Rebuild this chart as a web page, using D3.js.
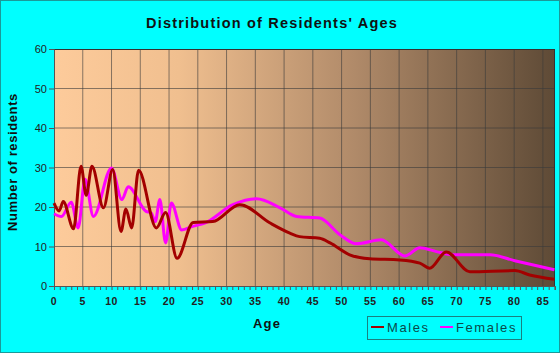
<!DOCTYPE html>
<html>
<head>
<meta charset="utf-8">
<script src="https://cdn.jsdelivr.net/npm/d3@7"></script>
<style>
  body { margin: 0; background: #00ffff; }
  svg { display: block; font-family: Arial, "Liberation Sans", sans-serif; }
</style>
</head>
<body>
<div id="chart"></div>
<script>
// Data (age, residents)
const maleAges   = [0, 0.9, 1.6, 3.4, 4.7, 5.6, 6.6, 8.6, 10.2, 11.65, 12.5, 13.5, 14.7, 17.8, 19.4, 21.4, 24.2, 27.6, 32.3, 37.5, 41, 42.7, 46.2, 48, 51.4, 54.9, 60.1, 63.6, 65.3, 68.2, 72.3, 80.1, 82.7, 87];
const maleValues = [21, 19, 21.4, 14.5, 30.3, 23, 30.3, 19.8, 29.5, 13.8, 19.5, 14.7, 29.3, 14.7, 18.6, 7, 16.1, 16.3, 20.6, 16, 13.4, 12.5, 12.1, 10.9, 7.9, 6.9, 6.6, 5.8, 4.5, 8.6, 3.6, 3.9, 2.8, 1.7];
const femaleAges   = [0, 1.3, 3, 4.2, 5.4, 6.85, 10, 11.8, 12.9, 16, 16.9, 17.6, 18.4, 19.4, 20.4, 22.2, 24.1, 26.2, 31.1, 35.2, 39.3, 42.2, 46.2, 49.7, 52.6, 56.9, 61, 63.6, 66.5, 69.4, 75.8, 80.1, 87];
const femaleValues = [18.3, 17.6, 21.2, 14.7, 27, 17.6, 29.9, 21.9, 25.1, 18.9, 18.5, 16.3, 21.9, 10.9, 21, 14.2, 15.1, 15.9, 20.6, 22.1, 19.8, 17.6, 17.2, 13, 10.7, 11.7, 7.6, 9.7, 8.7, 7.9, 7.9, 6.4, 4.1];
const xTicks = d3.range(0, 90, 5);
const yTicks = [0, 10, 20, 30, 40, 50, 60];

const W = 560, H = 353;
const plot = { left: 54, right: 555, top: 49, bottom: 286 };

const svg = d3.select("#chart").append("svg")
    .attr("width", W)
    .attr("height", H);

// outer border
svg.append("rect")
    .attr("x", 0.5).attr("y", 0.5)
    .attr("width", W - 1).attr("height", H - 1)
    .attr("fill", "#00ffff")
    .attr("stroke", "#1a9a9a");

const x = d3.scaleLinear().domain([0, 87.1]).range([plot.left, plot.right]);
const y = d3.scaleLinear().domain([0, 60]).range([plot.bottom, plot.top]);

// background gradient
const grad = svg.append("defs").append("linearGradient")
    .attr("id", "bg")
    .attr("x1", "0%").attr("x2", "100%").attr("y1", "0%").attr("y2", "0%");
grad.append("stop").attr("offset", "0%").attr("stop-color", "#fdcb9b");
grad.append("stop").attr("offset", "25%").attr("stop-color", "#f0bf8f");
grad.append("stop").attr("offset", "60%").attr("stop-color", "#b08a69");
grad.append("stop").attr("offset", "100%").attr("stop-color", "#5e4a36");

svg.append("rect")
    .attr("x", plot.left).attr("y", plot.top)
    .attr("width", plot.right - plot.left)
    .attr("height", plot.bottom - plot.top)
    .attr("fill", "url(#bg)");

// gridlines
svg.append("g")
    .selectAll("line")
    .data(xTicks.filter(d => d > 0))
    .join("line")
    .attr("x1", d => x(d)).attr("x2", d => x(d))
    .attr("y1", plot.top).attr("y2", plot.bottom)
    .attr("stroke", "#3a3a3a").attr("stroke-opacity", 0.6);

svg.append("g")
    .selectAll("line")
    .data(yTicks.filter(d => d > 0 && d < 60))
    .join("line")
    .attr("x1", plot.left).attr("x2", plot.right)
    .attr("y1", d => y(d)).attr("y2", d => y(d))
    .attr("stroke", "#3a3a3a").attr("stroke-opacity", 0.6);

// plot frame
svg.append("rect")
    .attr("x", plot.left + 0.5).attr("y", plot.top + 0.5)
    .attr("width", plot.right - plot.left - 1)
    .attr("height", plot.bottom - plot.top)
    .attr("fill", "none")
    .attr("stroke", "#333");

// y axis
const yAxis = svg.append("g")
    .attr("transform", `translate(${plot.left},0)`)
    .call(d3.axisLeft(y).tickValues(yTicks).tickSize(5).tickPadding(2));
yAxis.select(".domain").attr("stroke", "#555");
yAxis.selectAll(".tick line").attr("stroke", "#555");
yAxis.selectAll("text").attr("font-size", 11).attr("fill", "#222")
    .attr("font-family", "Arial, 'Liberation Sans', sans-serif");

// x axis, minor ticks each year
const xAxis = svg.append("g")
    .attr("transform", `translate(0,${plot.bottom})`)
    .call(d3.axisBottom(x).tickValues(d3.range(0, 88, 1)).tickSize(4).tickFormat(""));
xAxis.select(".domain").attr("stroke", "#555");
xAxis.selectAll(".tick line").attr("stroke", "#555");

svg.append("g")
    .selectAll("text")
    .data(xTicks)
    .join("text")
    .attr("x", d => x(d))
    .attr("y", 305)
    .attr("text-anchor", "middle")
    .attr("font-size", 10.5)
    .attr("font-weight", "bold")
    .attr("letter-spacing", 0.5)
    .attr("fill", "#222")
    .text(d => d);

// lines
const line = d3.line()
    .x(d => x(d[0]))
    .y(d => y(d[1]))
    .curve(d3.curveMonotoneX);

const females = femaleAges.map((a, i) => [a, femaleValues[i]]);
const males = maleAges.map((a, i) => [a, maleValues[i]]);

svg.append("path")
    .datum(females)
    .attr("fill", "none")
    .attr("stroke", "#ff00ff")
    .attr("stroke-width", 3)
    .attr("d", line);

svg.append("path")
    .datum(males)
    .attr("fill", "none")
    .attr("stroke", "#a30000")
    .attr("stroke-width", 3)
    .attr("d", line);

// title
svg.append("text")
    .attr("x", 272).attr("y", 28)
    .attr("text-anchor", "middle")
    .attr("font-size", 14.5)
    .attr("font-weight", "bold")
    .attr("letter-spacing", 1.2)
    .attr("fill", "#111")
    .text("Distribution of Residents' Ages");

// axis titles
svg.append("text")
    .attr("x", 267).attr("y", 328)
    .attr("text-anchor", "middle")
    .attr("font-size", 13)
    .attr("font-weight", "bold")
    .attr("letter-spacing", 1.2)
    .attr("fill", "#111")
    .text("Age");

svg.append("text")
    .attr("transform", "translate(17,162) rotate(-90)")
    .attr("text-anchor", "middle")
    .attr("font-size", 13)
    .attr("font-weight", "bold")
    .attr("letter-spacing", 0.6)
    .attr("fill", "#111")
    .text("Number of residents");

// legend
const legend = svg.append("g");
legend.append("rect")
    .attr("x", 367.5).attr("y", 316.5)
    .attr("width", 154).attr("height", 23)
    .attr("fill", "none")
    .attr("stroke", "#1a8080");

const legendItems = [
    { name: "Males", color: "#a30000", x: 371 },
    { name: "Females", color: "#ff00ff", x: 440 }
];
legendItems.forEach(it => {
    legend.append("line")
        .attr("x1", it.x).attr("x2", it.x + 13)
        .attr("y1", 327).attr("y2", 327)
        .attr("stroke", it.color)
        .attr("stroke-width", 2);
    legend.append("text")
        .attr("x", it.x + 16).attr("y", 332)
        .attr("font-size", 13)
        .attr("letter-spacing", 1.6)
        .attr("fill", "#0a4a4a")
        .text(it.name);
});
</script>
</body>
</html>
